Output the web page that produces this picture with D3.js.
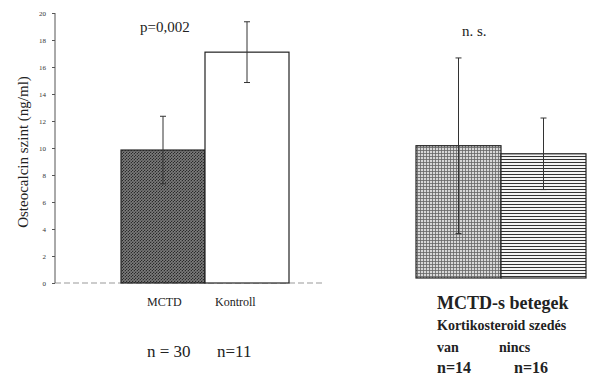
<!DOCTYPE html>
<html>
<head>
<meta charset="utf-8">
<script src="https://cdn.jsdelivr.net/npm/d3@7"></script>
</head>
<body style="margin:0">
<svg width="605" height="376"></svg>
<script>
// left panel: MCTD vs Kontroll
var leftGroups = ["MCTD", "Kontroll"];
var leftMeans = [9.85, 17.1];
var leftErr = [2.5, 2.25];
var leftN = ["n = 30", "n=11"];

// right panel: MCTD patients, corticosteroid use
var rightGroups = ["van", "nincs"];
var rightMeans = [9.8, 9.2];
var rightErr = [6.5, 2.65];
var rightN = ["n=14", "n=16"];

var yTicks = [0, 2, 4, 6, 8, 10, 12, 14, 16, 18, 20];

var svg = d3.select("svg");
var defs = svg.append("defs");

// dense dark cross hatch for MCTD
var p1 = defs.append("pattern").attr("id", "hatchDark")
    .attr("width", 3).attr("height", 3).attr("patternUnits", "userSpaceOnUse");
p1.append("rect").attr("width", 3).attr("height", 3).attr("fill", "#6a6a6a");
p1.append("path").attr("d", "M0,3 L3,0").attr("stroke", "#2a2a2a").attr("stroke-width", 1);
p1.append("path").attr("d", "M0,0 L3,3").attr("stroke", "#8a8a8a").attr("stroke-width", 0.6);

// fine grid for "van"
var p2 = defs.append("pattern").attr("id", "gridFine")
    .attr("width", 3).attr("height", 3).attr("patternUnits", "userSpaceOnUse");
p2.append("rect").attr("width", 3).attr("height", 3).attr("fill", "#d8d8d8");
p2.append("path").attr("d", "M0,0.5 H3 M0.5,0 V3").attr("stroke", "#666").attr("stroke-width", 0.8);

// horizontal lines for "nincs"
var p3 = defs.append("pattern").attr("id", "hLines")
    .attr("width", 4).attr("height", 3).attr("patternUnits", "userSpaceOnUse");
p3.append("rect").attr("width", 4).attr("height", 3).attr("fill", "#f4f4f4");
p3.append("path").attr("d", "M0,0.5 H4").attr("stroke", "#333").attr("stroke-width", 1);

var y = d3.scaleLinear().domain([0, 20]).range([283, 13]);
var y2 = d3.scaleLinear().domain([0, 20]).range([278, 8]);

var xl = d3.scaleBand().domain(leftGroups).range([121, 289]).padding(0);
var xr = d3.scaleBand().domain(rightGroups).range([416, 586]).padding(0);

// baseline
svg.append("line").attr("x1", 55).attr("x2", 322).attr("y1", 283).attr("y2", 283)
    .attr("stroke", "#999").attr("stroke-dasharray", "6,3");

var fillsL = ["url(#hatchDark)", "#fff"];
svg.append("g").selectAll("rect").data(leftGroups).enter().append("rect")
    .attr("x", function(d) { return xl(d); })
    .attr("y", function(d, i) { return y(leftMeans[i]); })
    .attr("width", xl.bandwidth())
    .attr("height", function(d, i) { return y(0) - y(leftMeans[i]); })
    .attr("fill", function(d, i) { return fillsL[i]; })
    .attr("stroke", "#222").attr("stroke-width", 1.2);

var fillsR = ["url(#gridFine)", "url(#hLines)"];
svg.append("g").selectAll("rect").data(rightGroups).enter().append("rect")
    .attr("x", function(d) { return xr(d); })
    .attr("y", function(d, i) { return y2(rightMeans[i]); })
    .attr("width", xr.bandwidth())
    .attr("height", function(d, i) { return y2(0) - y2(rightMeans[i]); })
    .attr("fill", function(d, i) { return fillsR[i]; })
    .attr("stroke", "#222").attr("stroke-width", 1.2);

function errBars(groups, means, errs, xs, ys) {
    var g = svg.append("g").attr("stroke", "#333").attr("stroke-width", 1);
    groups.forEach(function(d, i) {
        var cx = xs(d) + xs.bandwidth() / 2;
        var top = ys(means[i] + errs[i]), bot = ys(means[i] - errs[i]);
        g.append("line").attr("x1", cx).attr("x2", cx).attr("y1", top).attr("y2", bot);
        g.append("line").attr("x1", cx - 3).attr("x2", cx + 3).attr("y1", top).attr("y2", top);
        g.append("line").attr("x1", cx - 3).attr("x2", cx + 3).attr("y1", bot).attr("y2", bot);
    });
}
errBars(leftGroups, leftMeans, leftErr, xl, y);
errBars(rightGroups, rightMeans, rightErr, xr, y2);

// y axis
var axis = svg.append("g").attr("transform", "translate(55,0)")
    .call(d3.axisLeft(y).tickValues(yTicks).tickSize(3).tickPadding(6));
axis.attr("font-family", "Liberation Serif").attr("font-size", 7);
axis.select(".domain").attr("stroke", "#555").attr("d", "M0,283V13");
axis.selectAll(".tick line").attr("stroke", "#555");
axis.selectAll(".tick text").attr("fill", "#333");

// texts
var txt = svg.append("g").attr("font-family", "Liberation Serif").attr("fill", "#222");

txt.append("text")
    .attr("transform", "translate(28,152) rotate(-90)")
    .attr("text-anchor", "middle")
    .attr("font-size", 15)
    .text("Osteocalcin szint (ng/ml)");

function label(x, yy, size, s, bold) {
    var t = txt.append("text").attr("x", x).attr("y", yy)
        .attr("font-size", size)
        .text(s);
    if (bold) t.attr("font-weight", "bold");
}

// annotations
label(140, 32, 15, "p=0,002");
label(462, 36, 15, "n. s.");

// left labels
label(147, 306, 12, leftGroups[0]);
label(215, 306, 12, leftGroups[1]);
leftN.forEach(function(d, i) { label([147, 217][i], 357, 17, d); });

// right labels
label(437, 309, 18, "MCTD-s betegek", true);
label(437, 330, 14, "Kortikosteroid szedés", true);
rightGroups.forEach(function(d, i) { label([437, 499][i], 352, 14, d, true); });
rightN.forEach(function(d, i) { label([437, 514][i], 373, 16, d, true); });
</script>
</body>
</html>
